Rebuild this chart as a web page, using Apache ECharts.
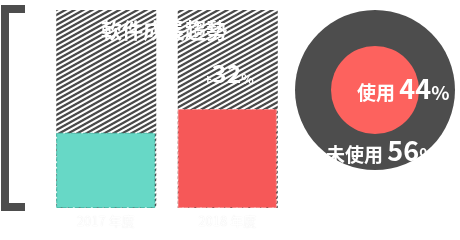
<!DOCTYPE html>
<html>
<head>
<meta charset="utf-8">
<script src="https://cdn.jsdelivr.net/npm/echarts@6/dist/echarts.min.js"></script>
<style>html,body{margin:0;padding:0;background:#fff;}#c{width:460px;height:240px;}</style>
</head>
<body>
<div id="c"></div>
<script>
var categories = ['2017 年度', '2018 年度'];
var barValues = [38, 50];
var barMax = [100, 100];
var chartTitle = '軟件成長趨勢';
var growthText = ['+', '32', '%'];
var usageNames = ['使用', '未使用'];
var usageValues = [44, 56];

var FONT = '"Noto Sans CJK TC", "Noto Sans", sans-serif';

// diagonal stripe pattern (9 x 5 tile, slope 5/9)
var PW = 9, PH = 5;
var pc = document.createElement('canvas');
pc.width = PW; pc.height = PH;
var pctx = pc.getContext('2d');
var img = pctx.createImageData(PW, PH);
for (var y = 0; y < PH; y++) {
  for (var x = 0; x < PW; x++) {
    var cov = 0, S = 4;
    for (var sy = 0; sy < S; sy++) for (var sx = 0; sx < S; sx++) {
      var fx = x + (sx + 0.5) / S, fy = y + (sy + 0.5) / S;
      var ph = ((fy + fx * PH / PW) % PH + PH) % PH;
      if (ph < 2.6) cov++;
    }
    cov /= S * S;
    var v = Math.round(255 - cov * (255 - 74));
    var i = (y * PW + x) * 4;
    img.data[i] = v; img.data[i + 1] = v; img.data[i + 2] = v; img.data[i + 3] = 255;
  }
}
pctx.putImageData(img, 0, 0);

var barColors = ['#67d8c6', '#f65858'];
var barBorders = ['#4cbfac', '#fb8a8a'];

var chart = echarts.init(document.getElementById('c'), null, {renderer: 'canvas'});
var richStyle = function (big, small) {
  return {
    a: {fill: '#fff', fontSize: small, fontFamily: FONT, fontWeight: 'bold', verticalAlign: 'bottom'},
    b: {fill: '#fff', fontSize: big, fontFamily: FONT, fontWeight: 'bold', verticalAlign: 'bottom'},
    c: {fill: '#fff', fontSize: small, fontFamily: FONT, fontWeight: 'bold', verticalAlign: 'bottom'}
  };
};
chart.setOption({
  animation: false,
  grid: {left: 45, right: 172, top: 10, bottom: 32},
  xAxis: {
    type: 'category', data: categories,
    axisLine: {show: false}, axisTick: {show: false},
    axisLabel: {color: '#ffffff', fontFamily: FONT, fontSize: 13, margin: 7,
      textShadowColor: 'rgba(0,0,0,0.12)', textShadowBlur: 1}
  },
  yAxis: {type: 'value', min: 0, max: 100, show: false},
  series: [
    {
      type: 'bar', data: barMax, barWidth: 100, silent: true,
      itemStyle: {color: {image: pc, repeat: 'repeat'}}
    },
    {
      type: 'bar', barGap: '-100%', barWidth: 99,
      data: barValues.map(function (v, i) {
        return {value: v, itemStyle: {color: barColors[i], borderColor: barBorders[i], borderType: 'dashed', borderWidth: 1}};
      })
    },
    {
      type: 'pie', center: [375, 90], radius: [0, 80], silent: true,
      label: {show: false}, labelLine: {show: false},
      data: [{name: usageNames[1], value: usageValues[1], itemStyle: {color: '#4d4d4d'}}]
    },
    {
      type: 'pie', center: [375, 90], radius: [0, 44], silent: true,
      label: {show: false}, labelLine: {show: false},
      data: [{name: usageNames[0], value: usageValues[0], itemStyle: {color: '#fd625e'}}]
    }
  ],
  graphic: [
    {type: 'polyline', z: 100, shape: {points: [[25, 9], [5, 9], [5, 207], [25, 207]]},
      style: {stroke: '#4d4d4d', lineWidth: 8, fill: null, lineJoin: 'miter', lineCap: 'butt'}},
    {type: 'text', z: 100, left: 101, top: 20, style: {text: chartTitle, fill: '#fff', fontSize: 21, fontWeight: 'bold', fontFamily: FONT}},
    {type: 'text', z: 100, left: 204, top: 61, style: {
      text: '{a|' + growthText[0] + '}{b|' + growthText[1] + '}{c|' + growthText[2] + '}',
      rich: richStyle(25, 13)}},
    {type: 'text', z: 100, left: 357, top: 75, style: {
      text: '{a|' + usageNames[0] + ' }{b|' + usageValues[0] + '}{c|%}',
      rich: richStyle(27, 19)}},
    {type: 'text', z: 100, left: 326, top: 137, style: {
      text: '{a|' + usageNames[1] + ' }{b|' + usageValues[1] + '}{c|%}',
      rich: richStyle(27, 19)}}
  ]
});
</script>
</body>
</html>
